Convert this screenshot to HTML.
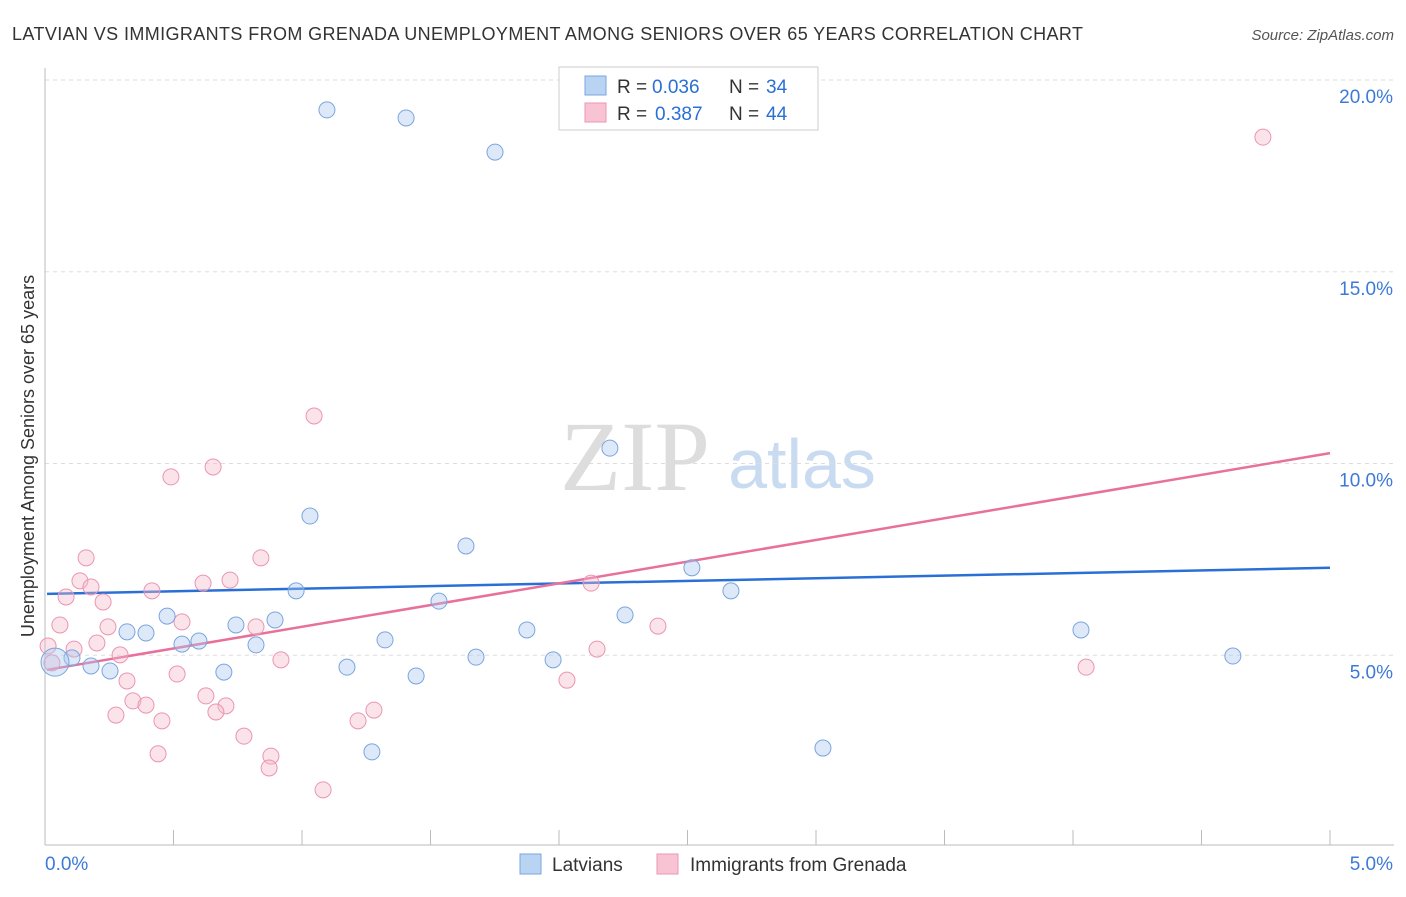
<!DOCTYPE html>
<html><head><meta charset="utf-8"><style>
body{margin:0;background:#fff;font-family:"Liberation Sans",sans-serif;}
</style></head><body>
<svg id="chart" width="1406" height="892" font-family="Liberation Sans, sans-serif">
<text x="12" y="40" font-size="18" fill="#333" textLength="1071" lengthAdjust="spacing">LATVIAN VS IMMIGRANTS FROM GRENADA UNEMPLOYMENT AMONG SENIORS OVER 65 YEARS CORRELATION CHART</text>
<text x="1394" y="40" font-size="15" fill="#555" text-anchor="end" font-style="italic">Source: ZipAtlas.com</text>
<text x="34" y="456" font-size="18" fill="#333" text-anchor="middle" transform="rotate(-90 34 456)">Unemployment Among Seniors over 65 years</text>
<g><text x="635" y="490" font-size="100" fill="#ddd" text-anchor="middle" style="font-family:'Liberation Serif',serif">ZIP</text><text x="802" y="488" font-size="70" fill="#c9dbf1" text-anchor="middle">atlas</text></g>
<g id="grid"></g><g id="axes"></g><g id="lines"></g><g id="pts"></g>
<g>
<rect x="559" y="67" width="259" height="63" fill="#fff" stroke="#ccc"/>
<rect x="585" y="76" width="21" height="19" fill="#b9d3f3" stroke="#7aa5dd"/>
<rect x="585" y="103" width="21" height="19" fill="#f8c4d4" stroke="#ec94b2"/>
<text x="617" y="93" font-size="19" fill="#333">R =</text><text x="652" y="93" font-size="19" fill="#2a6fd6">0.036</text>
<text x="729" y="93" font-size="19" fill="#333">N =</text><text x="766" y="93" font-size="19" fill="#2a6fd6">34</text>
<text x="617" y="120" font-size="19" fill="#333">R =</text><text x="655" y="120" font-size="19" fill="#2a6fd6">0.387</text>
<text x="729" y="120" font-size="19" fill="#333">N =</text><text x="766" y="120" font-size="19" fill="#2a6fd6">44</text>
</g>
<g>
<rect x="520" y="854" width="21" height="20" fill="#b9d3f3" stroke="#7aa5dd"/>
<text x="552" y="871" font-size="19" fill="#333">Latvians</text>
<rect x="657" y="854" width="21" height="20" fill="#f8c4d4" stroke="#ec94b2"/>
<text x="690" y="871" font-size="19" fill="#333">Immigrants from Grenada</text>
</g>
</svg>
<script>
const yTicks=[5,10,15,20];
const yTickLabels=["5.0%","10.0%","15.0%","20.0%"];
const xTickLabels=["0.0%","5.0%"];
const blueX=[1.097,1.405,1.751,2.198,1.031,1.638,2.517,0.977,2.669,1.533,2.257,0.475,0.895,0.743,0.319,0.393,0.533,0.599,1.323,0.821,1.875,4.031,0.105,0.039,0.179,0.253,0.696,1.175,1.677,1.977,1.444,4.622,3.027,1.272];
const blueY=[19.22,19.01,18.12,10.40,8.63,7.85,7.28,6.68,6.68,6.41,6.05,6.02,5.92,5.79,5.61,5.58,5.29,5.37,5.40,5.27,5.66,5.66,4.93,4.82,4.72,4.59,4.56,4.69,4.95,4.88,4.46,4.98,2.58,2.48];
const pinkX=[4.739,1.047,0.654,0.490,0.160,0.840,0.136,0.720,0.615,0.179,0.416,0.082,0.226,2.125,0.058,0.533,0.245,0.821,2.385,0.202,0.113,0.012,0.292,2.148,0.918,0.027,4.051,0.514,0.319,2.031,0.626,0.342,0.393,0.704,0.665,1.280,0.276,0.455,1.218,0.774,0.440,0.879,0.872,1.082];
const pinkY=[18.51,11.24,9.91,9.65,7.54,7.54,6.94,6.96,6.88,6.78,6.68,6.52,6.39,6.88,5.79,5.87,5.74,5.74,5.76,5.32,5.16,5.24,5.01,5.16,4.88,4.80,4.69,4.51,4.33,4.35,3.94,3.81,3.70,3.68,3.52,3.57,3.44,3.29,3.29,2.89,2.43,2.37,2.06,1.49];
const blueTrend=[6.60,7.28];
const pinkTrend=[4.62,10.27];
const trendX=[0.008,5.0];
const NS="http://www.w3.org/2000/svg";
const X=v=>45+v/5*1285, Y=v=>847-v*38.35;
function mk(t,a,p){const e=document.createElementNS(NS,t);for(const k in a)e.setAttribute(k,a[k]);document.getElementById(p).appendChild(e);return e;}
yTicks.forEach((t,i)=>{
 const g=mk('line',{x1:45,x2:1394,y1:Y(t),y2:Y(t),stroke:'#ddd','stroke-dasharray':'4,4'},'grid');
 
 
 const l=mk('text',{x:1393,y:Y(t)+23,'font-size':19,fill:'#3d7ad6','text-anchor':'end'},'axes');l.textContent=yTickLabels[i];
 
 
});
mk('line',{x1:45,x2:1394,y1:80,y2:80,stroke:'#ddd','stroke-dasharray':'4,4'},'grid');
mk('line',{x1:45,x2:45,y1:68,y2:845,stroke:'#bbb'},'axes');
mk('line',{x1:45,x2:1394,y1:845,y2:845,stroke:'#bbb'},'axes');
for(let i=0;i<=10;i++){const t=mk('line',{x1:X(i*0.5),x2:X(i*0.5),y1:830,y2:845,stroke:'#bbb'},'axes');
 
 }
const xl0=mk('text',{x:45,y:870,'font-size':19,fill:'#3d7ad6'},'axes');xl0.textContent=xTickLabels[0];


const xl1=mk('text',{x:1393,y:870,'font-size':19,fill:'#3d7ad6','text-anchor':'end'},'axes');xl1.textContent=xTickLabels[1];


pinkX.forEach((v,i)=>{const c=mk('circle',{cx:X(v),cy:Y(pinkY[i]),r:8,fill:'rgba(245,184,203,0.4)',stroke:'#ec94b2','stroke-width':1},'pts');
 
 });
blueX.forEach((v,i)=>{const c=mk('circle',{cx:X(v),cy:Y(blueY[i]),r:i==23?14:8,fill:'rgba(169,200,239,0.4)',stroke:'#7aa5dd','stroke-width':1},'pts');
 
 });
const bl=mk('line',{x1:X(trendX[0]),x2:X(trendX[1]),y1:Y(blueTrend[0]),y2:Y(blueTrend[1]),stroke:'#2a6fd6','stroke-width':2.5},'lines');


const pl=mk('line',{x1:X(trendX[0]),x2:X(trendX[1]),y1:Y(pinkTrend[0]),y2:Y(pinkTrend[1]),stroke:'#e8709a','stroke-width':2.5},'lines');


</script>
</body></html>
